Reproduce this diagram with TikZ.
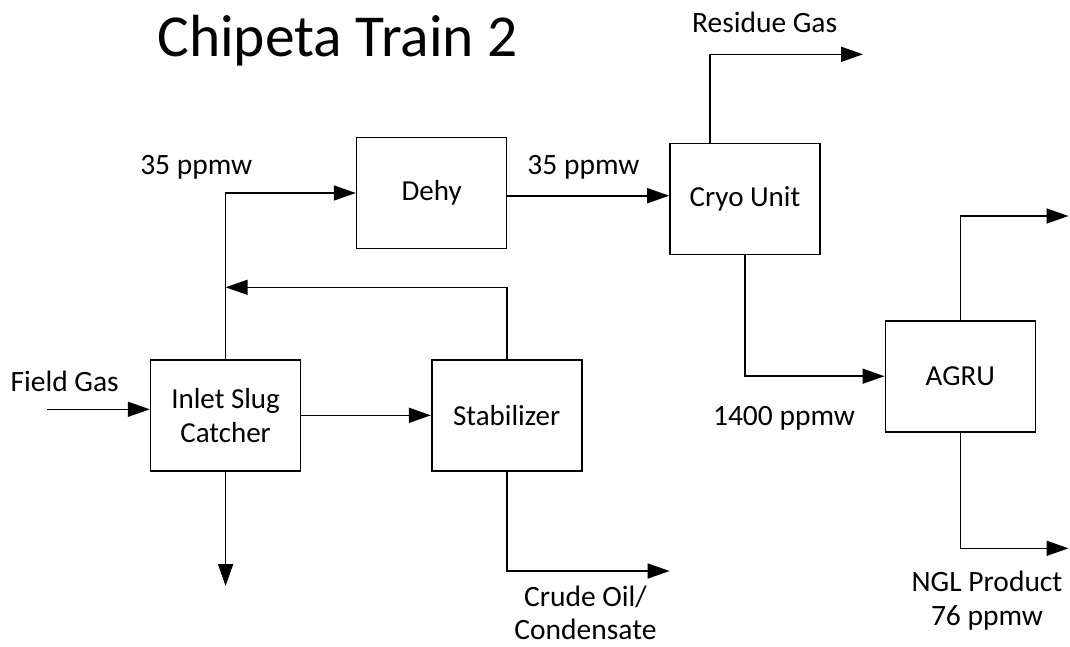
\documentclass[tikz,border=0pt]{standalone}
\usepackage{fontspec}
\setmainfont{Carlito}
\usetikzlibrary{arrows.meta,calc}
\begin{document}
\begin{tikzpicture}[x=1pt,y=-1pt,
  unit/.style={draw,line width=1.6pt,minimum width=150pt,minimum height=111pt,inner sep=0pt,align=center,font=\fontsize{29}{34.4}\selectfont},
  lbl/.style={anchor=base,inner sep=0pt,align=center,font=\fontsize{29.5}{33.2}\selectfont},
  flow/.style={line width=1.6pt,-{Triangle[length=22pt,width=15pt]}},
  pipe/.style={line width=1.6pt}]
\useasboundingbox (0,0) rectangle (1070,646);
% title
\node[anchor=base,inner sep=0pt,font=\fontsize{59.5}{62}\selectfont] (title) at (337.5,56.7) {Chipeta Train 2};
% units
\node[unit] (dehy) at (431.6,193) {Dehy};
\node[unit] (cryo) at (745,198.8) {Cryo Unit};
\node[unit] (agru) at (960.3,376.2) {AGRU};
\node[unit] (inlet) at (225.6,415.3) {Inlet Slug\\Catcher};
\node[unit] (stab) at (506.7,415.3) {Stabilizer};
% free ends
\coordinate (fg) at (47,409.3);
\coordinate (ret) at (225.6,287.3);
\coordinate (liq) at (225.6,586);
\coordinate (crude) at (669.6,571);
\coordinate (cryotop) at (709.8,143.3);
\coordinate (resid) at (863,54.3);
\coordinate (agruout) at (1068.5,216);
\coordinate (ngl) at (1068.5,548.3);
% connectors
\draw[flow] (fg) -- (fg -| inlet.west);
\draw[flow] (inlet.north) |- (dehy.west);
\draw[flow] (stab.north) |- (ret);
\draw[flow] (inlet.east) -- (stab.west);
\draw[flow] (inlet.south) -- (liq);
\draw[flow] (stab.south) |- (crude);
\draw[flow] ($(dehy.east)+(0,2.7)$) -- ($(dehy.east -| cryo.west)+(0,2.7)$);
\draw[flow] (cryotop) |- (resid);
\draw[flow] (cryo.south) |- (agru.west);
\draw[flow] (agru.north) |- (agruout);
\draw[flow] (agru.south) |- (ngl);
% labels
\node[lbl] (l1) at (196.3,174) {35 ppmw};
\node[lbl] (l2) at (583.5,174) {35 ppmw};
\node[lbl] (l3) at (764.6,32.3) {Residue Gas};
\node[lbl] (l4) at (64.7,391.7) {Field Gas};
\node[lbl] (l5) at (784,425) {1400 ppmw};
\node[lbl] (l6) at (585.5,639.5) {Crude Oil/\\Condensate};
\node[lbl] (l7) at (987,625) {NGL Product\\76 ppmw};
\end{tikzpicture}
\end{document}
